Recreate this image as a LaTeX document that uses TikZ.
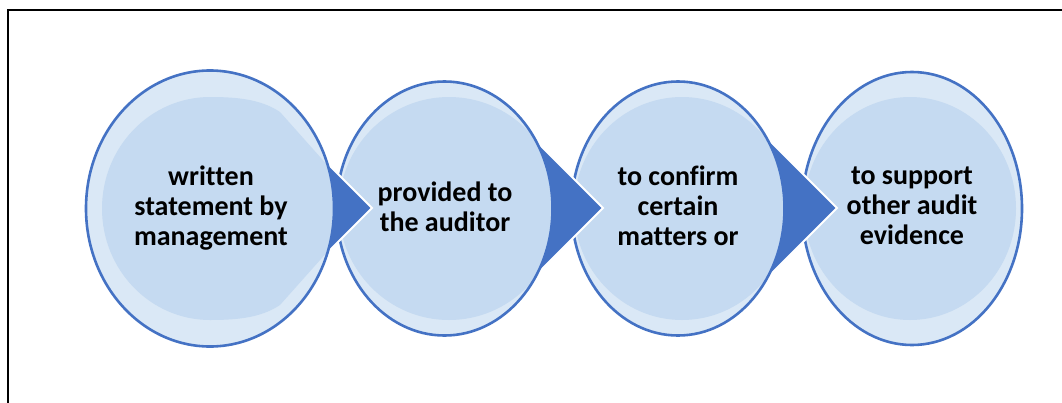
\documentclass[tikz,border=0pt]{standalone}
\usepackage{fontspec}
\setmainfont{Carlito}[Ligatures=NoCommon]
\definecolor{ring}{HTML}{DAE8F6}
\definecolor{core}{HTML}{C5DAF1}
\definecolor{accent}{HTML}{4472C4}
\newcommand\drawbubble[6]{% cx cy rx ry innercx innerrx
  \fill[ring] (#1,#2) ellipse ({#3} and {#4});
  \begin{scope}
    \clip (#1,#2) ellipse ({#3} and {#4});
    \fill[core] (#5,208.5) ellipse ({#6} and 111.5);
  \end{scope}
  \draw[rim] (#1,#2) ellipse ({#3} and {#4});}
\newcommand\drawchevron[2]{% tip x, tip y
  \fill[accent] (#1,#2) -- ({#1-100},{#2-100}) -- ({#1-100},{#2+100}) -- cycle;
  \draw[white, line width=2pt, line join=miter] ({#1-100},{#2-100}) -- (#1,#2) -- ({#1-100},{#2+100});}
\begin{document}
\begin{tikzpicture}[x=1pt,y=-1pt,
  rim/.style={draw=accent, line width=2.6pt},
  labeltext/.style={font=\fontsize{28}{30}\selectfont\bfseries, align=center, text=black, inner sep=0pt}]
\useasboundingbox (0,0) rectangle (1062,402);
\fill[white] (0,0) rectangle (1062,402);
\draw[line width=2pt] (8.3,430) -- (8.3,10.3) -- (1090,10.3);
% bubble 4
\drawbubble{912}{208.5}{110}{136.5}{910}{106}
\drawchevron{837}{208}
% bubble 3
\drawbubble{678}{208.5}{106.5}{127}{682}{108}
\drawchevron{603}{208}
% bubble 2
\drawbubble{444.5}{208.5}{108}{127}{449}{110}
\drawchevron{372}{208}
% bubble 1 with pointed core
\fill[ring] (210,208.5) ellipse (124 and 138);
\begin{scope}
  \clip (210,208.5) ellipse (124 and 138);
  \fill[core] (210,208.5) ellipse (108 and 111.5);
  \fill[core] (210,97) .. controls (240,97) and (262,100) .. (280,112) -- (345,185)
    -- (345,232) -- (280,305) .. controls (262,317) and (240,320) .. (210,320) -- cycle;
\end{scope}
\draw[rim] (210,208.5) ellipse (124 and 138);
% texts
\node[labeltext] (t1) at (211,208.5) {written\\statement by\\management};
\node[labeltext] (t2) at (445,207) {provided to\\the auditor};
\node[labeltext] (t3) at (678,206) {to confirm\\certain\\matters or};
\node[labeltext] (t4) at (912,205.5) {to support\\other audit\\evidence};
\end{tikzpicture}
\end{document}
